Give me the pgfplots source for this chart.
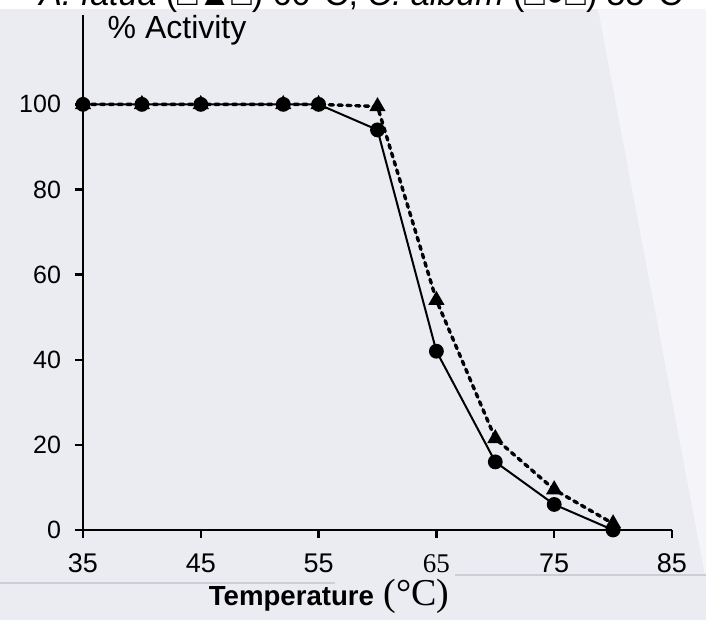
\documentclass[border=0pt]{standalone}
\usepackage{fontspec}
\setmainfont{Liberation Sans}
\newfontfamily\serifcap{Liberation Serif}
\usepackage{pgfplots}
\pgfplotsset{compat=1.18}
\definecolor{scan}{RGB}{235,235,242}
\definecolor{paper}{RGB}{245,245,249}
\definecolor{edge}{RGB}{205,205,214}
\begin{document}
\begin{tikzpicture}
% scanned page background, 1 unit = 1 px of the reference
\begin{scope}[x=0.5pt,y=0.5pt]
  \useasboundingbox (0,0) rectangle (706,620);
  \fill[scan] (0,0) rectangle (706,611);
  \fill[white] (0,611) rectangle (706,620);
  \fill[paper] (598,611) -- (706,611) -- (706,40) -- cycle;
  \draw[edge, line width=0.6pt] (0,37) -- (335,37);
  \draw[edge, line width=0.6pt] (455,45) -- (706,45);
  \node[anchor=base, font=\fontsize{17}{19}\selectfont] at (361,614)
    {\textit{A. fatua} (□▲□) 60°C, \textit{C. album} (□●□) 55°C};
\end{scope}

\begin{axis}[
  at={(41.5pt,45pt)}, anchor=south west,
  scale only axis, width=294.5pt, height=257.5pt,
  xmin=35, xmax=85, ymin=0, ymax=121,
  axis lines=left,
  axis line style={line width=1.2pt, -},
  xtick={35,45,55,65,75,85},
  xticklabels={35,45,55,{\serifcap 65},75,85},
  ytick={0,20,40,60,80,100},
  yticklabels={0,20,40,60,80,100},
  tick align=outside, major tick length=4pt,
  tick style={line width=1.2pt, black},
  yticklabel style={font=\fontsize{12.5}{14}\selectfont, xshift=-3.5pt},
  xticklabel style={font=\fontsize{13.5}{15}\selectfont, anchor=base, yshift=-17pt},
  clip=false,
]
\addplot[black, line width=1.7pt, dash pattern=on 2pt off 2.4pt, line cap=round,
  mark=triangle*, mark size=3pt, mark options={solid}] coordinates {
  (35,100) (40,100) (45,100) (52,100) (55,100) (60,99.5)
  (65,54) (70,21.5) (75,9.5) (80,1.5)
};
\addplot[black, line width=1pt, mark=*, mark size=3.2pt] coordinates {
  (35,100) (40,100) (45,100) (52,100) (55,100) (60,94)
  (65,42) (70,16) (75,6) (80,0)
};
\node[anchor=base west, font=\fontsize{16}{18}\selectfont]
  at (axis description cs:0.03,0.955) {\% Activity};
\node[anchor=base, font=\fontsize{13.8}{15}\selectfont\bfseries]
  at (axis description cs:0.418,-0.146)
  {Temperature\hspace{0.35em}{\serifcap\mdseries\fontsize{19}{21}\selectfont (°C)}};
\end{axis}
\end{tikzpicture}
\end{document}
